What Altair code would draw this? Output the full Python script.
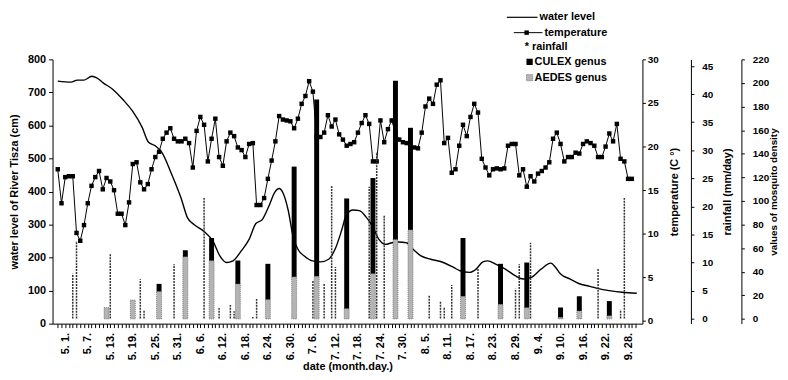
import altair as alt
import pandas as pd

# ---------------- data ----------------
# day index: 0 = 5.1 (May 1st)
tick_days = [0, 6, 12, 18, 24, 30, 36, 42, 48, 54, 60, 66, 72, 78, 84, 90,
             96, 102, 108, 114, 120, 126, 132, 138, 144, 150]
tick_labels = ["5. 1.", "5. 7.", "5. 13.", "5. 19.", "5. 25.", "5. 31.", "6. 6.",
               "6. 12.", "6. 18.", "6. 24.", "6. 30.", "7. 6.", "7. 12.", "7. 18.",
               "7. 24.", "7. 30.", "8. 5.", "8. 11.", "8. 17.", "8. 23.", "8. 29.",
               "9. 4.", "9. 10.", "9. 16.", "9. 22.", "9. 28."]

# water level of River Tisza (cm)
wl_day = [-2, 1.5, 3.2, 4.9, 7.1, 8.4, 10.1, 12.7, 15.3, 17.9, 20.5, 22.2, 23.9, 25.7,
          28.3, 30.9, 32.6, 34.3, 36.9, 39.5, 41.2, 43.0, 44.7, 46.9, 49.0, 50.8,
          52.5, 54.2, 55.9, 57.0, 58.1, 59.4, 60.7, 62.0, 63.7, 65.9, 68.0, 70.2,
          71.9, 73.7, 74.9, 76.7, 78.4, 80.1, 81.9, 83.6, 85.3, 87.1, 88.8, 90.9,
          92.7, 94.8, 97.4, 100.0, 103.5, 105.2, 107.8, 109.5, 111.3, 112.6, 114.7,
          117.3, 119.9, 122.1, 124.2, 126.8, 129.4, 130.7, 132.0, 134.6, 137.2,
          139.8, 142.4, 145.0, 148.4, 152.3]
wl_val = [734, 731, 737, 737, 749, 744, 729, 709, 679, 644, 594, 549, 539, 519,
          454, 379, 320, 300, 280, 247, 205, 185, 190, 220, 255, 303,
          315, 354, 399, 409, 394, 344, 265, 225, 205, 190, 187, 195,
          225, 284, 329, 344, 342, 324, 294, 255, 240, 245, 247, 245,
          225, 205, 195, 188, 170, 160, 155, 165, 187, 190, 180,
          165, 145, 135, 140, 165, 183, 170, 150, 135, 120,
          113, 105, 100, 95, 92]

# daily temperature (C), first value is two days before 5.1
temp_start_day = -2
temp_vals = [
    17.4, 13.5, 16.5, 16.6, 16.6, 10.1, 9.2, 11.0, 13.5, 15.5,
    16.5, 17.2, 15.1, 16.4, 16.0, 15.0, 12.3, 12.3, 11.0, 13.6,
    18.0, 18.2, 15.9, 15.1, 15.7, 17.4, 18.8, 19.4, 20.9, 21.6,
    22.1, 20.9, 20.6, 20.6, 20.9, 20.4, 17.6, 21.8, 23.4, 22.5,
    18.3, 20.9, 23.2, 18.8, 17.8, 20.6, 21.6, 21.2, 19.9, 19.6,
    18.8, 20.3,
    20.4, 13.3, 13.3, 14.1, 16.3, 18.4, 20.6, 23.5, 23.1, 23.0,
    22.9, 22.1, 23.2, 24.9, 25.8, 27.5, 26.3, 21.1, 21.1, 21.6,
    23.6, 22.3, 23.1, 21.4, 20.8, 20.1, 20.3, 20.5, 21.6, 22.7,
    23.6, 22.6, 18.3, 18.3, 23.0, 20.5, 22.0, 23.0, 21.6, 20.8,
    20.5, 20.4, 20.1, 19.9, 19.8, 21.6, 24.6, 25.5, 24.9, 27.1,
    27.6, 20.4,
    21.0, 17.0, 17.4, 20.1, 22.5, 21.2, 23.4, 24.9, 23.9, 18.6,
    17.6, 16.7, 17.4, 17.5, 17.4, 17.5, 20.1, 20.3, 20.3, 16.7,
    17.4, 15.4, 16.6, 16.0, 16.9, 17.2, 17.6, 18.2, 20.9, 21.6,
    20.3, 18.3, 18.8, 18.8, 19.3, 19.2, 20.3, 20.6, 20.4, 20.1,
    18.8, 18.8, 20.0, 21.5, 20.6, 22.6, 18.6, 18.3, 16.3, 16.3]

# rainfall (mm/day)
rain_days = [2, 3, 12, 20, 21, 29, 37, 41, 44, 45, 50, 51, 66, 69, 71, 72, 81, 83,
             85, 97, 100, 101, 103, 110, 120, 121, 124, 142, 148, 149]
rain_mm = [8.0, 13.8, 11.6, 7.0, 1.5, 9.7, 21.5, 1.9, 2.4, 1.3, 0.3, 3.5, 6.8, 6.2,
           23.7, 9.2, 23.5, 29.7, 18.5, 4.1, 3.0, 2.1, 6.0, 9.0, 5.3, 9.7, 13.5,
           8.9, 1.6, 21.5]

# mosquito density
mos_days = [11, 18, 25, 32, 39, 46, 54, 61, 67, 75, 82, 88, 92, 106, 116, 123, 132, 137, 145]
aedes = [9.6, 16, 23.3, 52.7, 49.4, 29.7, 16.5, 35.7, 36.2, 8.8, 38.4, 67.3, 75.5,
         19.2, 12.4, 9.6, 1.4, 6.8, 2.7]
culex = [0, 0, 6.4, 5.5, 19.2, 19.8, 30.2, 93.4, 149.8, 93.3, 81.0, 134.5, 86.5,
         49.4, 34.3, 38.2, 8.2, 12.4, 12.4]

legend_labels = ["water level", "temperature", "* rainfall", "CULEX genus", "AEDES genus"]

# ---------------- tables ----------------
wl_df = pd.DataFrame({"day": wl_day, "wl": wl_val})
temp_df = pd.DataFrame({"day": [temp_start_day + i for i in range(len(temp_vals))],
                        "temp": temp_vals})
rain_df = pd.DataFrame({"day": rain_days, "rain": rain_mm, "base": 0.0})
mos_df = pd.DataFrame({"day": mos_days, "aedes": aedes, "culex": culex})
mos_df["top"] = mos_df["aedes"] + mos_df["culex"]
mos_df["base"] = 0.0
culex_df = mos_df[mos_df["culex"] > 0]

FONT = "Liberation Sans"
AEDES_COLOR = "#b4b4b4"

days_js = "[" + ",".join(str(d) for d in tick_days) + "]"
labs_js = "[" + ",".join("'%s'" % s for s in tick_labels) + "]"
label_expr = f"indexof({days_js}, datum.value) >= 0 ? {labs_js}[indexof({days_js}, datum.value)] : ''"

x_enc = alt.X(
    "day:Q",
    scale=alt.Scale(domain=[-2.07, 152.5], nice=False, zero=False),
    axis=alt.Axis(values=list(range(-2, 153)), labelExpr=label_expr, labelAngle=270,
                  labelOverlap=False, labelFlush=False, labelBound=False,
                  tickSize=4, labelPadding=5, labelFontSize=11,
                  title="date (month.day.)", titleY=43, titleBaseline="middle"),
)

water = alt.Chart(wl_df).mark_line(color="black", strokeWidth=1.4, interpolate="monotone").encode(
    x=x_enc,
    y=alt.Y("wl:Q", scale=alt.Scale(domain=[0, 800], nice=False),
            axis=alt.Axis(orient="left", values=list(range(0, 801, 100)),
                          title="water level of River Tisza (cm)", titleX=-38,
                          titleAngle=270, titleBaseline="middle",
                          tickSize=4, labelPadding=3, labelFontSize=11)),
)

temp_scale = alt.Scale(domain=[-0.3, 30], nice=False, zero=False)
tline = alt.Chart(temp_df).mark_line(color="black", strokeWidth=1).encode(
    x=x_enc,
    y=alt.Y("temp:Q", scale=temp_scale,
            axis=alt.Axis(orient="right", values=list(range(0, 31, 5)),
                          title="temperature (C °)", titleX=32, titleAngle=270,
                          titleBaseline="middle", tickSize=3, labelPadding=2,
                          labelFontSize=10)),
)
tpts = alt.Chart(temp_df).mark_point(shape="square", filled=True, size=20, color="black", opacity=1).encode(
    x=x_enc,
    y=alt.Y("temp:Q", scale=temp_scale, axis=None),
)

rain = alt.Chart(rain_df).mark_rule(color="#333333", strokeWidth=1.5, strokeDash=[2, 1]).encode(
    x=x_enc,
    y=alt.Y("base:Q", scale=alt.Scale(domain=[-0.9, 46.2], nice=False, zero=False),
            axis=alt.Axis(orient="right", offset=49, values=list(range(0, 46, 5)),
                          title="rainfall (mm/day)", titleX=37, titleAngle=270,
                          titleBaseline="middle", tickSize=3, labelPadding=8,
                          labelFontSize=10)),
    y2="rain:Q",
)

dens_scale = alt.Scale(domain=[-4, 220], nice=False, zero=False)
aedes_bar = alt.Chart(mos_df).mark_bar(size=5, color=AEDES_COLOR, stroke="#444444",
                                       strokeWidth=0.6, strokeDash=[1, 1]).encode(
    x=x_enc,
    y=alt.Y("aedes:Q", scale=dens_scale,
            axis=alt.Axis(orient="right", offset=100, values=list(range(0, 221, 20)),
                          title="values of mosquito density", titleX=32, titleAngle=270,
                          titleBaseline="middle", titleFontSize=10, tickSize=3,
                          labelPadding=8, labelFontSize=10)),
    y2="base:Q",
)
culex_bar = alt.Chart(culex_df).mark_bar(size=5, color="black").encode(
    x=x_enc,
    y=alt.Y("top:Q", scale=dens_scale, axis=None),
    y2="aedes:Q",
)

one = pd.DataFrame({"a": [0]})


def leg_text(label, x, y):
    return alt.Chart(pd.DataFrame({"t": [label]})).mark_text(
        align="left", baseline="middle", font=FONT, fontSize=11, fontWeight="bold", color="black"
    ).encode(x=alt.value(x), y=alt.value(y), text="t:N")


leg = [
    alt.Chart(one).mark_rule(color="black", strokeWidth=1.2).encode(
        x=alt.value(459), x2=alt.value(490), y=alt.value(-42.5)),
    leg_text(legend_labels[0], 492, -42.5),
    alt.Chart(one).mark_rule(color="black", strokeWidth=1).encode(
        x=alt.value(466), x2=alt.value(495), y=alt.value(-27)),
    alt.Chart(one).mark_point(shape="square", filled=True, size=20, color="black", opacity=1).encode(
        x=alt.value(479), y=alt.value(-27)),
    leg_text(legend_labels[1], 497, -27),
    leg_text(legend_labels[2], 477, -12.5),
    alt.Chart(one).mark_square(size=40, color="black", opacity=1).encode(
        x=alt.value(482), y=alt.value(2.5)),
    leg_text(legend_labels[3], 487, 2.5),
    alt.Chart(one).mark_square(size=40, color=AEDES_COLOR, stroke="#444444", strokeWidth=0.6,
                               strokeDash=[1, 1], opacity=1).encode(
        x=alt.value(482), y=alt.value(18.5)),
    leg_text(legend_labels[4], 487, 18.5),
]

chart = alt.layer(
    water, tline, tpts, rain, aedes_bar, culex_bar, *leg
).resolve_scale(
    y="independent"
).properties(
    width=596, height=267,
    padding={"left": 45, "top": 50, "right": 139, "bottom": 50},
    autosize=alt.AutoSizeParams(type="none"),
).configure_view(
    stroke=None
).configure_axis(
    grid=False, domainColor="black", tickColor="black", labelColor="black",
    titleColor="black", labelFont=FONT, titleFont=FONT, labelFontWeight="bold",
    titleFontWeight="bold", titleFontSize=11, domainWidth=1, tickWidth=1,
)

chart.save("out.html", embed_options={"renderer": "svg", "actions": False})
